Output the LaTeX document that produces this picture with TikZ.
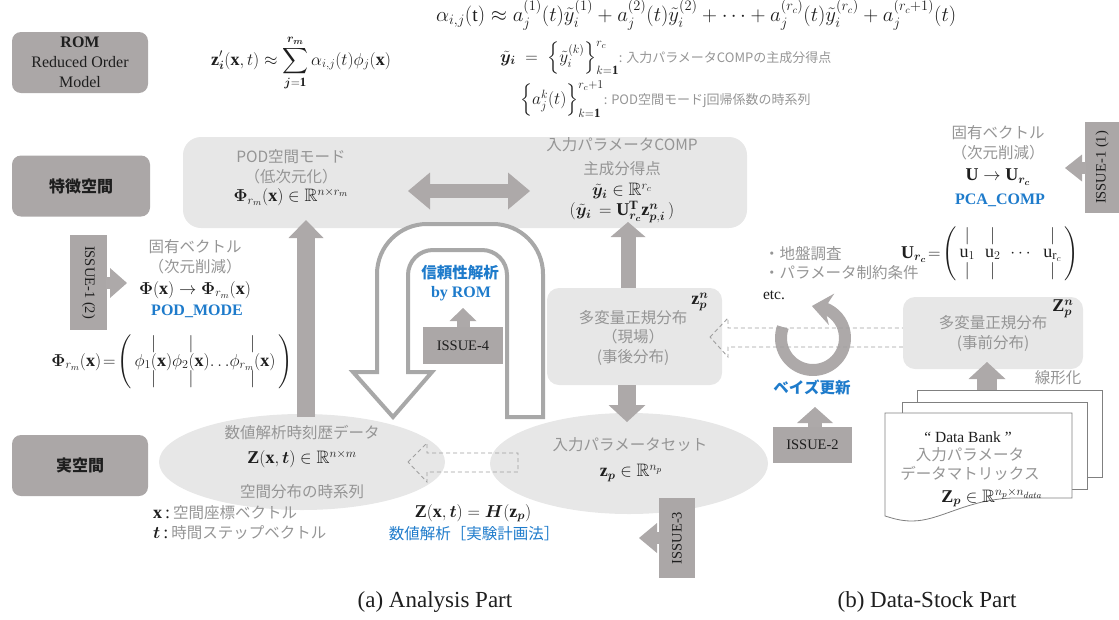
\documentclass[tikz,border=0pt]{standalone}
\usepackage{amsmath,amssymb,bm}
\usepackage{fontspec}
\setmainfont{Liberation Serif}
\newfontfamily\jp{Noto Sans CJK JP}
\usetikzlibrary{arrows.meta,shapes.geometric,bending,calc}
\definecolor{lbl}{HTML}{ABA7A7}
\definecolor{agray}{HTML}{ADA9A9}
\definecolor{lfill}{HTML}{E7E7E7}
\definecolor{jg}{HTML}{959595}
\definecolor{blu}{HTML}{1E7BCB}
\definecolor{dk}{HTML}{1E1E1E}
\definecolor{dgray}{HTML}{A0A0A0}
\definecolor{pgray}{HTML}{808080}
\definecolor{loopg}{HTML}{A8A8A8}
\newcommand\jpt{\jp\fontsize{15.5}{18}\selectfont}
\newcommand\jps{\jp\fontsize{13}{15}\selectfont}
\newcommand\mth{\fontsize{18}{21}\selectfont}
\tikzset{
  lblbox/.style={fill=lbl, rounded corners=9pt, minimum width=136pt, minimum height=61pt, align=center, text=dk, inner sep=0pt},
  issue/.style={fill=lbl, inner sep=0pt, text=dk, font=\fontsize{14.5}{17}\selectfont},
  lbox/.style={fill=lfill, inner sep=0pt},
  jt/.style={font=\jpt, text=jg, inner sep=0pt},
  mt/.style={font=\mth, text=dk, inner sep=0pt},
  bj/.style={font=\jpt\bfseries, text=blu, inner sep=0pt},
  bs/.style={font=\fontsize{16}{19}\selectfont\bfseries, text=blu, inner sep=0pt},
  conn/.style={draw=agray, line width=#1},
  ahead/.style args={#1/#2}{-{Triangle[width=#1,length=#2,line width=0pt]}},
  dsh/.style={draw=dgray, line width=0.9pt, dash pattern=on 4pt off 3pt},
  page/.style={fill=white, draw=pgray, line width=0.8pt},
  captext/.style={font=\fontsize{23}{27}\selectfont, text=dk, inner sep=0pt},
}
\begin{document}
\begin{tikzpicture}[x=1pt,y=-1pt]
\useasboundingbox (0,0) rectangle (1119,619);

% ---------- left labels
\node[lblbox, font=\fontsize{16}{20}\selectfont] (rom) at (80,62.5) {\textbf{ROM}\\Reduced Order\\Model};
\node[lblbox, minimum width=138pt, font=\jp\fontsize{16}{19}\selectfont\bfseries] (fs) at (81,186) {特徴空間};
\node[lblbox, font=\jp\fontsize{16}{19}\selectfont\bfseries] (rs) at (80,465.5) {実空間};

% ---------- top formulas
\node[mt] (f1) at (301,63) {$\displaystyle \mathbf z_{\bm i}'(\mathbf x,t)\approx\sum_{\bm j=\mathbf 1}^{\bm r_{\bm m}}\alpha_{i,j}(t)\phi_j(\mathbf x)$};
\node[mt, anchor=west, font=\fontsize{19.5}{22}\selectfont] (f2) at (436,15) {$\alpha_{i,j}(\mathrm t)\approx a_j^{(1)}(t)\tilde y_i^{(1)}+a_j^{(2)}(t)\tilde y_i^{(2)}+\cdots+a_j^{(r_c)}(t)\tilde y_i^{(r_c)}+a_j^{(r_c+1)}(t)$};
\node[mt, anchor=west] (f3) at (500,58) {$\tilde{\bm y}_{\bm i}\;=\;\Bigl\{\tilde y_i^{(k)}\Bigr\}_{k=\mathbf 1}^{r_c}$\textcolor{jg}{\jps: 入力パラメータCOMPの主成分得点}};
\node[mt, anchor=west] (f4) at (520,99) {$\Bigl\{a_j^k(t)\Bigr\}_{k=\mathbf 1}^{r_c+1}$\textcolor{jg}{\jps: POD空間モードj回帰係数の時系列}};

% ---------- feature space box
\node[lbox, rounded corners=18pt, minimum width=564pt, minimum height=91pt] (feat) at (465,182.5) {};
\node[jt] (podt) at (291,157) {POD空間モード};
\node[jt] (podt2) at (291,177) {（低次元化）};
\node[mt] (podm) at (291,197) {$\bm{\Phi}_{r_m}(\mathbf{x})\in\mathbb{R}^{n\times r_m}$};
\node[jt] (compt) at (622,145) {入力パラメータCOMP};
\node[jt] (compt2) at (622,169) {主成分得点};
\node[mt] (compm) at (622,191) {$\tilde{\bm y}_{\bm i}\in\mathbb{R}^{r_c}$};
\node[mt] (compm2) at (622,212) {$(\tilde{\bm y}_{\bm i}\,=\mathbf{U}_{\bm r_{\bm c}}^{\mathbf T}\mathbf{z}_{\bm p,\bm i}^{\bm n}\,)$};
\coordinate (dl) at (408,191);
\coordinate (dr) at (530,191);
\draw[conn=14pt, {Triangle[width=37pt,length=22pt,line width=0pt]}-{Triangle[width=37pt,length=22pt,line width=0pt]}] (dl) -- (dr);

% ---------- left block (POD mode)
\node[jt] (ev1) at (195,247) {固有ベクトル};
\node[jt] (ev2) at (195,267) {（次元削減）};
\node[mt] (evm) at (195,290) {$\bm\Phi(\mathbf x)\rightarrow\bm\Phi_{r_m}(\mathbf x)$};
\node[bs] (podmode) at (197,311) {POD\_MODE};
\node[mt] (phimat) at (172,362) {\renewcommand\arraystretch{0.78}$\bm\Phi_{r_m}(\mathbf x)\!=\!\left(\begin{array}{@{\,}c@{}c@{}c@{}c@{\,}}\vert&\vert&&\vert\\ \phi_1(\mathbf x)&\phi_2(\mathbf x)&\ldots&\phi_{r_m}(\mathbf x)\\ \vert&\vert&&\vert\end{array}\right)$};
\node[issue, rotate=-90, minimum width=95pt, minimum height=37pt] (i12) at (88.5,282.5) {ISSUE-1 (2)};
\coordinate (i12a) at (106,283);
\coordinate (i12b) at (127,283);
\draw[conn=12pt, ahead=30pt/17pt] (i12a) -- (i12b);

% ---------- ellipses (real space)
\node[ellipse, fill=lfill, minimum width=286pt, minimum height=96pt, inner sep=0pt] (zell) at (302,462) {};
\node[ellipse, fill=lfill, minimum width=278pt, minimum height=101pt, inner sep=0pt] (pell) at (629,463.5) {};
\node[jt] (zt1) at (302,433) {数値解析時刻歴データ};
\node[mt] (zm) at (302,459) {$\mathbf Z(\mathbf x,\bm t)\in\mathbb R^{n\times m}$};
\node[jt] (zt2) at (302,492) {空間分布の時系列};
\node[jt] (pt1) at (630,445) {入力パラメータセット};
\node[mt] (pm) at (631,473) {$\mathbf z_{\bm p}\in\mathbb R^{n_p}$};

% up arrow Z -> POD
\coordinate (ua1) at (306,417);
\coordinate (ua2) at (306,220);
\draw[conn=18pt, ahead=35pt/18pt] (ua1) -- (ua2);

% ---------- U-shaped loop arrow
\filldraw[fill=white, draw=loopg, line width=4pt, line join=miter]
  (543,417) -- (543,274) arc[start angle=0, end angle=-90, radius=50]
  -- (427,224) arc[start angle=-90, end angle=-180, radius=50]
  -- (377,372) -- (353,372) -- (393,417) -- (432,372) -- (408,372)
  -- (408,275) arc[start angle=180, end angle=270, radius=25]
  -- (482,250) arc[start angle=270, end angle=360, radius=25]
  -- (507,417) -- cycle;
\node[bj] (rel) at (460,273) {信頼性解析};
\node[bs] (byrom) at (461,294) {by ROM};
\node[issue, minimum width=80pt, minimum height=37pt] (i4) at (463,345.5) {ISSUE-4};
\coordinate (i4t) at (463,308);
\draw[conn=13pt, ahead=27pt/13pt] (i4.north) -- (i4t);

% ---------- posterior box
\node[lbox, rounded corners=12pt, minimum width=175pt, minimum height=97pt] (gen) at (634.5,336.5) {};
\node[mt] (genz) at (700,302) {$\mathbf z_{\bm p}^{\bm n}$};
\node[jt] (gen1) at (633,318) {多変量正規分布};
\node[jt] (gen2) at (633,337) {（現場）};
\node[jt] (gen3) at (633,357) {(事後分布)};
\coordinate (ga1) at (628,288);
\coordinate (ga2) at (628,222);
\draw[conn=15pt, ahead=35pt/15pt] (ga1) -- (ga2);
\coordinate (gb1) at (627,385);
\coordinate (gb2) at (627,422);
\draw[conn=18pt, ahead=37pt/17pt] (gb1) -- (gb2);

% dashed arrow pell -> zell
\draw[dsh] (408,462) -- (427,443) -- (427,453) -- (518,453) -- (518,472) -- (427,472) -- (427,482) -- cycle;

% texts below
\node[mt, anchor=west] (xl) at (153,513) {$\mathbf x$\,:\,\textcolor{jg}{\jpt 空間座標ベクトル}};
\node[mt, anchor=west] (tl) at (153,533) {$\bm t$\,:\,\textcolor{jg}{\jpt 時間ステップベクトル}};
\node[mt] (hm) at (473,513) {$\mathbf Z(\mathbf x,\bm t)=\bm H(\mathbf z_{\bm p})$};
\node[jt, text=blu] (doe) at (474,534) {数値解析［実験計画法］};

% ISSUE-3
\node[issue, rotate=90, minimum width=80pt, minimum height=36pt] (i3) at (677,538) {ISSUE-3};
\coordinate (i3a) at (660,538);
\coordinate (i3b) at (639,538);
\draw[conn=12pt, ahead=30pt/18pt] (i3a) -- (i3b);

% ---------- Bayes update
\coordinate (bayc) at (813,338);
\draw[draw=agray, line width=12pt, -{Stealth[width=32pt,length=20pt,line width=0pt,inset=7pt]}] (bayc) ++(200:32) arc[start angle=200, end angle=-92, radius=32];
\node[bj] (bay) at (812,387) {ベイズ更新};
\node[issue, minimum width=79pt, minimum height=36pt] (i2) at (812.5,445) {ISSUE-2};
\coordinate (i2t) at (815,407);
\draw[conn=14pt, ahead=36pt/16pt] (i2.north -| i2t) -- (i2t);
\node[jt, anchor=west] (g1) at (764,254) {・地盤調査};
\node[jt, anchor=west] (g2) at (764,273) {・パラメータ制約条件};
\node[mt, font=\fontsize{15.5}{18}\selectfont] (etc) at (774,295) {etc.};

% dashed arrow prior -> posterior
\draw[dsh] (710,337) -- (728,318) -- (728,328) -- (907,328) -- (907,347) -- (728,347) -- (728,357) -- cycle;

% ---------- prior box
\node[lbox, rounded corners=12pt, minimum width=180pt, minimum height=72pt] (pri) at (993,333) {};
\node[mt] (priz) at (1063,309) {$\mathbf Z_{\bm p}^{\bm n}$};
\node[jt] (pri1) at (993,323) {多変量正規分布};
\node[jt] (pri2) at (993,343) {(事前分布)};
\node[jt] (lin) at (1058,378) {線形化};

% ---------- data bank
\filldraw[page] (917,390) rectangle (1102,477);
\filldraw[page] (902,402) rectangle (1087,489);
\filldraw[page] (885,413) -- (1072,413) -- (1072,498) -- (1012,498)
  .. controls (965,500) and (940,521) .. (912,521)
  .. controls (900,521) and (892,518) .. (885,516) -- cycle;
\coordinate (dba) at (987,390);
\coordinate (dbb) at (987,362);
\draw[conn=20pt, ahead=37pt/17pt] (dba) -- (dbb);
\node[mt, font=\fontsize{15.5}{18}\selectfont] (db1) at (968,437) {“ Data Bank ”};
\node[jt] (db2) at (970,455) {入力パラメータ};
\node[jt] (db3) at (970,473) {データマトリックス};
\node[mt] (db4) at (992,498) {$\mathbf Z_{\bm p}\in\mathbb R^{n_p\times n_{data}}$};

% ---------- right column (PCA)
\node[jt] (rv1) at (998,133) {固有ベクトル};
\node[jt] (rv2) at (998,153) {（次元削減）};
\node[mt] (rvm) at (998,177) {$\mathbf U\rightarrow\mathbf U_{\bm r_{\bm c}}$};
\node[bs] (pca) at (1000,200) {PCA\_COMP};
\node[mt] (umat) at (990,254) {\setlength\arraycolsep{5pt}\renewcommand\arraystretch{0.78}$\mathbf U_{\bm r_{\bm c}}\!=\!\left(\begin{array}{@{\,}cccc@{\,}}\vert&\vert&&\vert\\ \mathrm u_1&\mathrm u_2&\cdots&\mathrm u_{\mathrm r_c}\\ \vert&\vert&&\vert\end{array}\right)$};
\node[issue, rotate=90, minimum width=91pt, minimum height=34pt] (i11) at (1102,167.5) {ISSUE-1 (1)};
\coordinate (i11a) at (1086,168);
\coordinate (i11b) at (1065,168);
\draw[conn=12pt, ahead=27pt/17pt] (i11a) -- (i11b);

% ---------- captions
\node[captext] (capa) at (435,602) {(a) Analysis Part};
\node[captext] (capb) at (927,602) {(b) Data-Stock Part};
\end{tikzpicture}
\end{document}
